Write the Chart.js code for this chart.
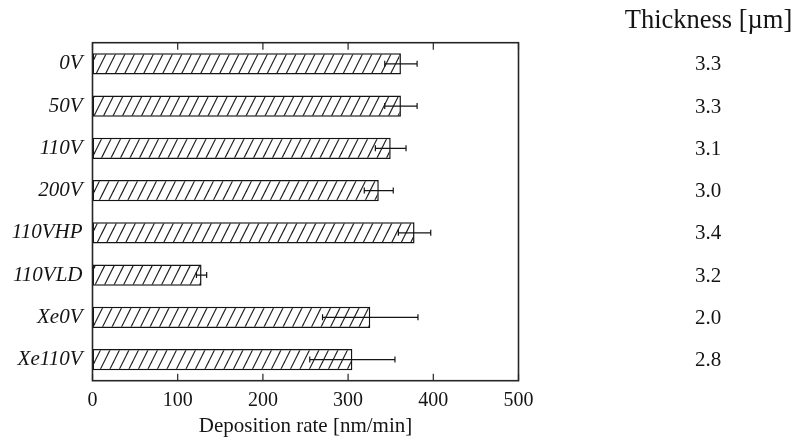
<!DOCTYPE html>
<html>
<head>
<meta charset="utf-8">
<script src="https://cdn.jsdelivr.net/npm/chart.js@4/dist/chart.umd.min.js"></script>
<style>
  html, body { margin: 0; padding: 0; background: #fff; }
  #wrap { width: 798px; height: 441px; }
</style>
</head>
<body>
<div id="wrap"><canvas id="c" width="798" height="441"></canvas></div>
<script>
// Sample conditions (bias voltage / gas variants)
const samples = ['0V', '50V', '110V', '200V', '110VHP', '110VLD', 'Xe0V', 'Xe110V'];
// Deposition rate [nm/min] and its spread
const depositionRate = [362, 362, 350, 336, 378, 128, 326, 305];
const rateError = [19, 19, 18, 17, 19, 6, 56, 50];
// Film thickness [µm] listed beside each bar
const thickness = ['3.3', '3.3', '3.1', '3.0', '3.4', '3.2', '2.0', '2.8'];
// Rate axis ticks
const rateTicks = [0, 100, 200, 300, 400, 500];

const SERIF = "'Liberation Serif', 'Times New Roman', serif";
const INK = '#141414';

// Diagonal "/" hatch used to fill the bars
function makeHatch() {
  const w = 9.5;
  const p = document.createElement('canvas');
  p.width = 19; p.height = 38;
  const g = p.getContext('2d');
  g.fillStyle = '#fff';
  g.fillRect(0, 0, p.width, p.height);
  g.strokeStyle = '#1c1c1c';
  g.lineWidth = 1.2;
  // lines of slope 2 spaced 9.5 px apart; the tile holds two periods each way
  for (let k = -4; k <= 4; k++) {
    const x0 = k * w;
    g.beginPath();
    g.moveTo(x0 - 2, p.height + 4);
    g.lineTo(x0 + p.width + 2, -4);
    g.stroke();
  }
  return g.createPattern(p, 'repeat');
}

// Frame, inward ticks on top and bottom, error bars and the thickness column
const decorations = {
  id: 'decorations',
  afterDatasetsDraw(chart) {
    const { ctx, chartArea: a, scales: { x, y } } = chart;
    ctx.save();
    // error bars
    ctx.strokeStyle = INK;
    ctx.lineWidth = 1.2;
    const meta = chart.getDatasetMeta(0);
    meta.data.forEach((bar, i) => {
      const v = depositionRate[i], e = rateError[i];
      const x1 = x.getPixelForValue(v - e), x2 = x.getPixelForValue(v + e);
      const yy = bar.y;
      ctx.beginPath();
      ctx.moveTo(x1, yy); ctx.lineTo(x2, yy);
      ctx.moveTo(x1, yy - 3); ctx.lineTo(x1, yy + 3);
      ctx.moveTo(x2, yy - 3); ctx.lineTo(x2, yy + 3);
      ctx.stroke();
    });
    // frame
    ctx.strokeStyle = '#262626';
    ctx.lineWidth = 1.6;
    ctx.strokeRect(a.left, a.top, a.right - a.left, a.bottom - a.top);
    // inward tick marks
    ctx.lineWidth = 1.2;
    rateTicks.forEach(t => {
      const px = x.getPixelForValue(t);
      ctx.beginPath();
      ctx.moveTo(px, a.top); ctx.lineTo(px, a.top + 7);
      ctx.moveTo(px, a.bottom); ctx.lineTo(px, a.bottom - 7);
      ctx.stroke();
    });
    // thickness column
    ctx.fillStyle = INK;
    ctx.textAlign = 'center';
    ctx.textBaseline = 'middle';
    ctx.font = '26.5px ' + SERIF;
    ctx.fillText('Thickness [\u00B5m]', 708.5, 21);
    ctx.font = '21px ' + SERIF;
    thickness.forEach((t, i) => {
      ctx.fillText(t, 708, y.getPixelForValue(i) + 1);
    });
    ctx.restore();
  }
};

new Chart(document.getElementById('c'), {
  type: 'bar',
  data: {
    labels: samples,
    datasets: [{
      data: depositionRate,
      backgroundColor: makeHatch(),
      borderColor: INK,
      borderWidth: 1.5,
      borderSkipped: false,
      categoryPercentage: 1,
      barPercentage: 0.505
    }]
  },
  options: {
    indexAxis: 'y',
    responsive: false,
    animation: false,
    events: [],
    layout: { padding: { top: 42.7, right: 279.5, left: 0, bottom: 0 } },
    plugins: { legend: { display: false }, tooltip: { enabled: false } },
    scales: {
      x: {
        type: 'linear',
        min: 0,
        max: 500,
        afterBuildTicks(scale) { scale.ticks = rateTicks.map(v => ({ value: v })); },
        afterFit(scale) { scale.height = 60.3; },
        grid: { display: false, drawTicks: false },
        border: { display: false },
        ticks: { color: INK, font: { family: SERIF, size: 20 }, padding: 8 },
        title: {
          display: true,
          text: 'Deposition rate [nm/min]',
          color: INK,
          font: { family: SERIF, size: 21 },
          padding: { top: 0, bottom: 2 }
        }
      },
      y: {
        type: 'category',
        offset: true,
        afterFit(scale) { scale.width = 92.5; },
        grid: { display: false, drawTicks: false },
        border: { display: false },
        ticks: { color: INK, font: { family: SERIF, size: 21, style: 'italic' }, padding: 10 }
      }
    }
  },
  plugins: [decorations]
});
</script>
</body>
</html>
